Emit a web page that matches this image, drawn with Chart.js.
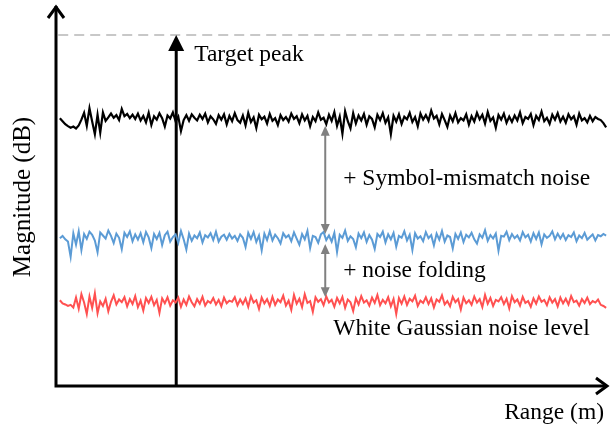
<!DOCTYPE html>
<html>
<head>
<meta charset="utf-8">
<script src="https://cdn.jsdelivr.net/npm/chart.js@4.4.1/dist/chart.umd.min.js"></script>
<style>
  html, body { margin: 0; padding: 0; background: #fff; }
  #grafico { display: block; }
</style>
</head>
<body>
<canvas id="grafico" width="610" height="430"></canvas>
<script>
// Níveis de ruído (dB) ao longo do alcance
const ruido_total = [
  71.0, 70.2, 69.4, 68.9, 68.5, 68.8, 68.3, 69.1, 70.6, 72.4, 69.0, 73.6, 70.1, 66.8, 71.9, 67.2, 72.5,
  70.3, 71.2, 72.2, 71.1, 71.8, 70.5, 73.4, 71.5, 72.1, 71.0, 71.9, 70.8, 72.2, 70.4, 71.6, 69.9, 72.4,
  69.2, 71.5, 70.6, 72.3, 71.0, 68.8, 71.7, 70.9, 72.5, 70.2, 71.4, 67.6, 70.5, 71.8, 70.3, 72.0, 71.1,
  70.4, 71.9, 70.8, 72.2, 69.9, 71.5, 70.7, 69.5, 71.8, 70.6, 72.0, 69.4, 71.6, 70.2, 72.3, 70.5, 69.8,
  71.7, 69.1, 72.4, 70.0, 71.2, 68.4, 71.9, 70.7, 71.4, 69.6, 72.1, 70.3, 71.0, 69.2, 71.8, 70.5, 71.3,
  70.1, 72.2, 70.8, 71.5, 69.7, 72.0, 70.4, 71.6, 68.9, 71.3, 70.2, 72.5, 70.6, 71.1, 69.4, 71.9, 70.3,
  72.6, 69.0, 71.4, 66.9, 72.8, 70.2, 68.3, 72.3, 69.6, 71.7, 70.4, 72.1, 69.3, 71.5, 70.8, 68.6, 71.9,
  70.5, 72.3, 69.8, 71.2, 66.8, 71.6, 70.1, 72.0, 69.5, 71.4, 70.7, 72.4, 70.0, 71.3, 68.9, 72.2, 70.6,
  71.8, 70.3, 73.0, 70.9, 71.6, 69.4, 72.1, 70.5, 68.7, 71.7, 70.2, 72.3, 69.9, 71.0, 70.4, 72.0, 69.3,
  71.5, 70.1, 72.4, 70.7, 71.9, 69.6, 72.6, 70.3, 71.2, 68.5, 71.8, 70.6, 72.2, 69.8, 71.4, 70.0, 71.7,
  70.4, 72.5, 69.7, 71.3, 70.8, 72.1, 69.2, 71.6, 70.5, 72.7, 70.2, 71.1, 69.5, 71.9, 70.6, 72.3, 70.1,
  71.4, 69.8, 72.0, 70.7, 71.5, 69.3, 72.2, 70.4, 71.0, 69.9, 71.6, 70.2, 71.3, 70.8, 70.5, 69.7, 68.6
];
const ruido_dobra = [
  39.5, 40.1, 39.2, 38.6, 34.6, 40.8, 37.8, 41.3, 36.4, 40.6, 39.3, 41.2, 40.4, 38.9, 35.8, 41.0, 40.2,
  39.4, 41.5, 40.1, 38.2, 40.7, 39.6, 36.6, 40.9, 39.8, 41.3, 38.7, 40.5, 39.1, 40.8, 38.4, 41.1, 39.7,
  36.9, 40.6, 39.3, 40.9, 37.7, 40.3, 41.2, 38.6, 39.8, 40.5, 38.3, 41.4, 39.2, 36.5, 40.7, 38.8, 40.2,
  39.5, 41.0, 38.4, 40.3, 39.7, 40.8, 39.0, 41.2, 38.6, 39.9, 40.4, 39.1, 40.6, 39.4, 40.1, 38.8, 40.5,
  39.6, 37.2, 40.9, 39.3, 41.1, 38.5, 40.2, 36.3, 40.7, 39.0, 41.3, 38.9, 40.4, 39.5, 38.1, 40.8, 39.7,
  40.3, 38.7, 41.0, 39.4, 37.8, 40.6, 39.2, 41.4, 36.9, 40.1, 39.8, 38.3, 40.5, 41.1, 39.0, 40.2, 38.6,
  40.9, 35.9, 40.4, 39.6, 41.5, 38.8, 40.0, 39.3, 37.1, 40.7, 39.5, 41.0, 38.5, 40.3, 39.1, 36.7, 40.6,
  39.8, 41.2, 38.4, 40.5, 39.2, 40.9, 37.3, 40.1, 39.6, 41.3, 38.9, 40.4, 36.4, 40.8, 39.4, 40.0, 38.7,
  41.1, 39.5, 40.3, 37.6, 40.7, 39.1, 41.4, 38.6, 40.2, 39.8, 36.8, 40.6, 39.3, 41.0, 38.5, 40.4, 39.7,
  40.9, 39.2, 38.1, 40.5, 39.6, 41.6, 38.8, 40.3, 39.4, 40.7, 36.2, 40.1, 39.9, 41.2, 39.0, 40.6, 39.5,
  40.2, 38.9, 41.1, 39.7, 40.4, 38.6, 40.8, 39.3, 41.0, 37.9, 40.5, 39.6, 40.1, 41.3, 39.2, 40.7, 39.4,
  40.6, 39.0, 40.3, 39.8, 41.0, 38.7, 40.2, 39.5, 40.9, 39.1, 39.8, 40.5, 38.9, 40.3, 40.0, 40.6, 40.2
];
const ruido_branco = [
  23.2, 22.4, 22.1, 21.7, 22.0, 21.3, 23.9, 21.0, 24.8, 22.6, 19.6, 24.2, 21.2, 25.0, 19.8, 22.9, 21.7,
  23.6, 20.3, 22.8, 24.5, 22.1, 23.4, 22.7, 24.0, 21.6, 23.5, 22.2, 24.3, 21.4, 23.1, 20.5, 23.8, 22.5,
  24.1, 21.9, 23.3, 19.9, 23.7, 22.4, 24.0, 21.8, 23.2, 22.6, 23.9, 21.5, 23.4, 22.0, 24.2, 22.7, 21.6,
  23.5, 22.3, 24.1, 21.8, 23.0, 22.5, 23.8, 22.1, 23.3, 21.6, 23.9, 22.4, 23.1, 22.8, 24.0, 21.9, 23.4,
  22.2, 23.7, 21.5, 24.3, 22.6, 23.2, 20.9, 23.9, 22.4, 23.5, 21.7, 24.1, 22.0, 23.4, 22.7, 24.4, 21.8,
  23.1, 20.7, 24.6, 22.3, 23.6, 21.4, 24.8, 22.5, 23.0, 20.2, 24.0, 22.8, 23.5, 21.9, 24.2, 22.6, 23.3,
  21.5, 23.8, 22.4, 24.1, 21.2, 23.4, 22.7, 20.4, 23.7, 22.1, 24.3, 22.6, 23.2, 21.8, 23.9, 22.5, 24.6,
  21.9, 23.3, 22.4, 24.0, 21.6, 23.5, 19.6, 23.8, 22.3, 24.2, 22.0, 23.6, 22.9, 24.4, 21.7, 23.1, 22.5,
  24.0, 22.2, 23.7, 21.3, 23.4, 22.8, 24.5, 22.1, 23.0, 21.6, 24.1, 22.7, 23.5, 20.8, 23.9, 22.4, 23.2,
  22.0, 24.2, 22.6, 23.5, 21.4, 24.6, 22.3, 23.8, 21.7, 23.3, 22.9, 24.0, 22.2, 23.6, 21.1, 24.3, 22.7,
  23.4, 21.8, 24.1, 22.5, 23.0, 21.5, 23.7, 22.3, 24.2, 22.8, 23.3, 21.9, 24.0, 22.6, 23.5, 21.6, 23.9,
  22.4, 23.6, 22.1, 24.3, 22.7, 23.1, 21.8, 23.5, 22.5, 23.9, 22.2, 23.0, 22.6, 23.4, 22.0, 21.7, 21.2
];

// Alvo e setas de diferença
const alcance_alvo = 21.7;
const pico_alvo = 92.8;
const alcance_setas = 48.6;
const seta_mismatch = [69.0, 40.6];
const seta_dobra = [38.0, 24.0];

// Eixo de alcance (amostras uniformes de 0.7 a 99.3)
const inicio = 0.7, fim = 99.3;
const alcance = ruido_total.map((_, i) => inicio + i * (fim - inicio) / (ruido_total.length - 1));

const y_min = 0.7, y_max = 100.7;
const fonte = '"Liberation Serif", "Times New Roman", serif';
const cinza = '#808080';

function serie(valores, cor, largura) {
  return {
    data: valores.map((v, i) => ({ x: alcance[i], y: v })),
    borderColor: cor,
    borderWidth: largura,
    pointRadius: 0,
    tension: 0
  };
}

// Desenha eixos com setas, cabeças das setas e textos
const decoracao = {
  id: 'decoracao',
  afterDatasetsDraw(chart) {
    const { ctx, chartArea: a, scales: { x, y } } = chart;
    ctx.save();
    ctx.strokeStyle = '#000';
    ctx.fillStyle = '#000';
    ctx.lineWidth = 3;
    ctx.lineJoin = 'miter';
    ctx.lineCap = 'butt';

    // Eixos
    ctx.beginPath();
    ctx.moveTo(a.left, a.top + 1);
    ctx.lineTo(a.left, a.bottom);
    ctx.lineTo(a.right - 3, a.bottom);
    ctx.stroke();
    // Setas abertas nas pontas dos eixos
    ctx.beginPath();
    ctx.moveTo(a.left - 8, a.top + 13);
    ctx.lineTo(a.left, a.top + 2);
    ctx.lineTo(a.left + 8, a.top + 13);
    ctx.stroke();
    ctx.beginPath();
    ctx.moveTo(a.right - 14, a.bottom - 8);
    ctx.lineTo(a.right - 3, a.bottom);
    ctx.lineTo(a.right - 14, a.bottom + 8);
    ctx.stroke();

    // Cabeça da seta do alvo
    const xa = x.getPixelForValue(alcance_alvo);
    const ya = y.getPixelForValue(pico_alvo);
    ctx.beginPath();
    ctx.moveTo(xa, ya);
    ctx.lineTo(xa - 8, ya + 16);
    ctx.lineTo(xa + 8, ya + 16);
    ctx.closePath();
    ctx.fill();

    // Setas duplas cinzas
    const xs = x.getPixelForValue(alcance_setas);
    ctx.strokeStyle = cinza;
    ctx.fillStyle = cinza;
    ctx.lineWidth = 2;
    [seta_mismatch, seta_dobra].forEach(([topo, base]) => {
      const y1 = y.getPixelForValue(topo);
      const y2 = y.getPixelForValue(base);
      ctx.beginPath();
      ctx.moveTo(xs, y1 + 6);
      ctx.lineTo(xs, y2 - 6);
      ctx.stroke();
      ctx.beginPath();
      ctx.moveTo(xs, y1);
      ctx.lineTo(xs - 4.5, y1 + 10);
      ctx.lineTo(xs + 4.5, y1 + 10);
      ctx.closePath();
      ctx.fill();
      ctx.beginPath();
      ctx.moveTo(xs, y2);
      ctx.lineTo(xs - 4.5, y2 - 10);
      ctx.lineTo(xs + 4.5, y2 - 10);
      ctx.closePath();
      ctx.fill();
    });

    // Textos
    ctx.fillStyle = '#000';
    ctx.font = '23.5px ' + fonte;
    ctx.textBaseline = 'alphabetic';
    ctx.textAlign = 'left';
    ctx.fillText('Target peak', xa + 18, 61);
    ctx.fillText('+ Symbol-mismatch noise', xs + 18, 185);
    ctx.fillText('+ noise folding', xs + 18, 277);
    ctx.fillText('White Gaussian noise level', xs + 8, 335);
    ctx.textAlign = 'right';
    ctx.fillText('Range (m)', a.right - 6, 419);
    ctx.save();
    ctx.translate(30, 197);
    ctx.rotate(-Math.PI / 2);
    ctx.textAlign = 'center';
    ctx.font = '25px ' + fonte;
    ctx.fillText('Magnitude (dB)', 0, 0);
    ctx.restore();
    ctx.restore();
  }
};

new Chart(document.getElementById('grafico').getContext('2d'), {
  type: 'line',
  data: {
    datasets: [
      // Linha tracejada do nível do pico
      {
        data: [{ x: 0.4, y: pico_alvo }, { x: 100, y: pico_alvo }],
        borderColor: '#c8c8c8',
        borderWidth: 2,
        borderDash: [10, 6],
        pointRadius: 0
      },
      serie(ruido_total, '#000000', 2.2),
      serie(ruido_dobra, '#5b9bd5', 2),
      serie(ruido_branco, '#ff5050', 2),
      // Haste do alvo
      {
        data: [{ x: alcance_alvo, y: y_min }, { x: alcance_alvo, y: pico_alvo - 3 }],
        borderColor: '#000',
        borderWidth: 3,
        pointRadius: 0
      }
    ]
  },
  options: {
    responsive: false,
    devicePixelRatio: 1,
    animation: false,
    layout: { padding: { left: 56, right: 0, top: 5, bottom: 44 } },
    scales: {
      x: { type: 'linear', min: 0, max: 100, display: false },
      y: { min: y_min, max: y_max, display: false }
    },
    plugins: {
      legend: { display: false },
      tooltip: { enabled: false }
    }
  },
  plugins: [decoracao]
});
</script>
</body>
</html>
